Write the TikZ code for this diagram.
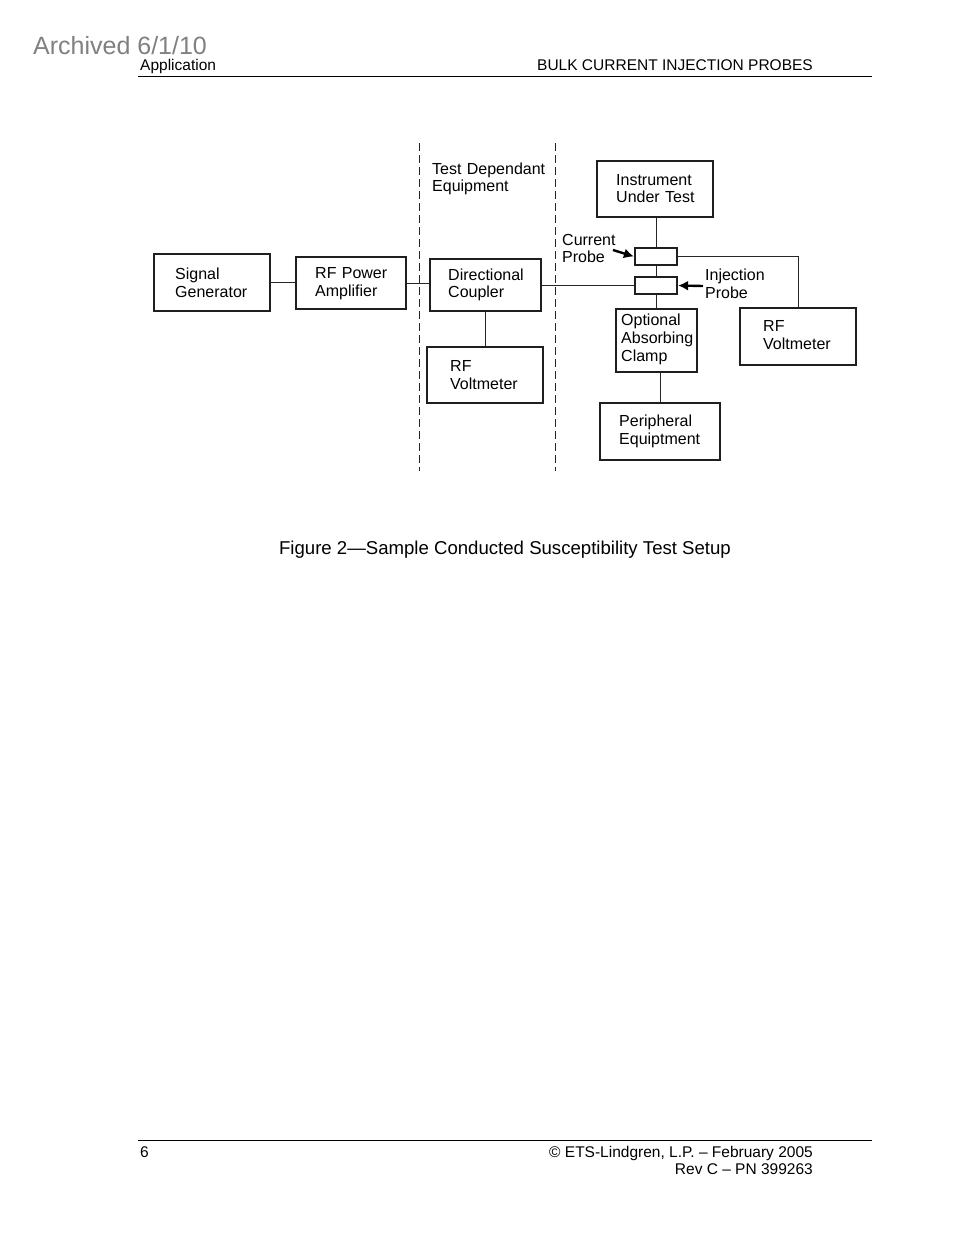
\documentclass[tikz,border=0pt]{standalone}
\usepackage{fontspec}
\setmainfont{Liberation Sans}
\usetikzlibrary{arrows.meta}
\begin{document}
\begin{tikzpicture}[x=1pt,y=-1pt,
  box/.style={draw=black!88,line width=2.2pt,inner sep=0pt,minimum width=#1},
  lbl/.style={anchor=base west,inner sep=0pt,text width=160pt,align=left,
    font=\fontsize{16}{17.9}\selectfont},
  wire/.style={draw=black!85,line width=1pt},
  divider/.style={draw=black!85,line width=1pt,dash pattern=on 8pt off 4pt},
  pointer/.style={draw=black,line width=2.4pt,-{Latex[length=10pt,width=10pt]}},
  hdr/.style={inner sep=0pt,font=\fontsize{15.5}{17}\selectfont}]
\useasboundingbox[fill=white] (0,0) rectangle (954,1235);
% header
\node[anchor=base west,inner sep=0pt,text=black!50,font=\fontsize{25}{28}\selectfont] (arch) at (33,54) {Archived 6/1/10};
\node[hdr,anchor=base west] (app) at (140,70) {Application};
\node[hdr,anchor=base east] (bulk) at (813,70) {BULK CURRENT INJECTION PROBES};
\coordinate (hl) at (138,76); \coordinate (hr) at (872,76);
\draw[line width=1pt] (hl) -- (hr);
% dividers
\coordinate (d1t) at (419,143); \coordinate (d1b) at (419,471);
\coordinate (d2t) at (555,143); \coordinate (d2b) at (555,471);
\draw[divider] (d1t) -- (d1b);
\draw[divider] (d2t) -- (d2b);
% boxes
\node[box=116pt,minimum height=57pt] (sg) at (212,282.5) {};
\node[box=110pt,minimum height=52pt] (amp) at (351,283) {};
\node[box=111pt,minimum height=52pt] (dc) at (485.5,285) {};
\node[box=116pt,minimum height=56pt] (rfv1) at (485,375) {};
\node[box=116pt,minimum height=56pt] (iut) at (655,189) {};
\node[box=42pt,minimum height=17pt] (cp) at (656,256.5) {};
\node[box=42pt,minimum height=17pt] (ip) at (656,285.5) {};
\node[box=81pt,minimum height=63pt] (clamp) at (656.5,340.5) {};
\node[box=120pt,minimum height=57pt] (per) at (660,431.5) {};
\node[box=116pt,minimum height=57pt] (rfv2) at (798,336.5) {};
% labels
\node[lbl] (tsg) at (175,279.3) {Signal\\Generator};
\node[lbl] (tamp) at (315,278.3) {RF Power\\Amplifier};
\node[lbl] (tdc) at (448,280) {Directional\\Coupler};
\node[lbl] (trfv1) at (450,371.7) {RF\\Voltmeter};
\node[lbl] (ttde) at (432,174) {Test Dependant\\Equipment};
\node[lbl] (tiut) at (616,185) {Instrument\\Under Test};
\node[lbl] (tcp) at (562,245) {Current\\Probe};
\node[lbl] (tip) at (705,280.7) {Injection\\Probe};
\node[lbl] (tclamp) at (621,325.7) {Optional\\Absorbing\\Clamp};
\node[lbl] (trfv2) at (763,331.7) {RF\\Voltmeter};
\node[lbl] (tper) at (619,426.7) {Peripheral\\Equiptment};
% wires
\draw[wire] (sg.east) -- (sg.east -| amp.west);
\draw[wire] (amp.east) -- (amp.east -| dc.west);
\draw[wire] (dc.east) -- (dc.east -| ip.west);
\draw[wire] (dc.south) -- (dc.south |- rfv1.north);
\draw[wire] (iut.south -| cp.north) -- (cp.north);
\draw[wire] (cp.south) -- (ip.north);
\draw[wire] (ip.south) -- (ip.south |- clamp.north);
\draw[wire] (clamp.south -| per.north) -- (per.north);
\draw[wire] (cp.east) -| (rfv2.north);
% pointers
\coordinate (cpa) at (613,250);
\coordinate (ipa) at (703,286);
\draw[pointer] (cpa) -- (cp.west);
\draw[pointer] (ipa) -- (ip.east);
% caption
\node[anchor=base,inner sep=0pt,font=\fontsize{18.6}{21}\selectfont] (cap) at (505,554) {Figure 2—Sample Conducted Susceptibility Test Setup};
% footer
\coordinate (fl) at (138,1140); \coordinate (fr) at (872,1140);
\draw[line width=1pt] (fl) -- (fr);
\node[hdr,anchor=base west] (pg) at (140,1157) {6};
\node[hdr,anchor=base east] (copy) at (813,1157) {© ETS-Lindgren, L.P. – February 2005};
\node[hdr,anchor=base east] (rev) at (813,1174) {Rev C – PN 399263};
\end{tikzpicture}
\end{document}
